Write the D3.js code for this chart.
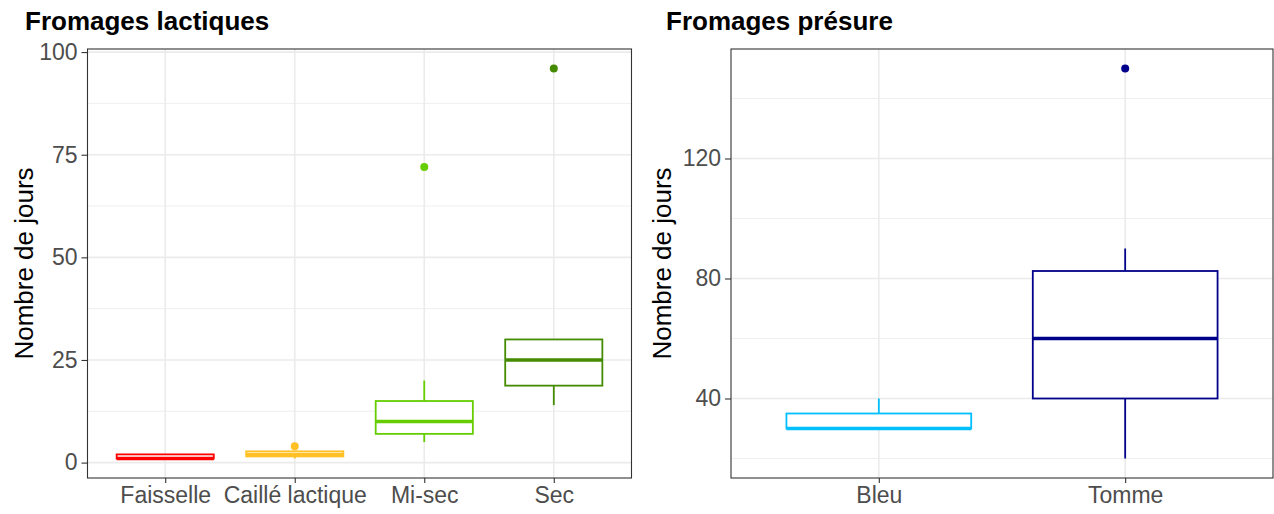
<!DOCTYPE html>
<html lang="fr">
<head>
    <meta charset="UTF-8">
    <title>Fromages</title>
    <script src="https://cdn.jsdelivr.net/npm/d3@7"></script>
    <style>
        body { margin: 0; background: #fff; }
        text { font-family: "Liberation Sans", Arial, sans-serif; }
    </style>
</head>
<body>
</body>
<script>
    // Fromages lactiques
    const lactCats = ["Faisselle", "Caillé lactique", "Mi-sec", "Sec"];
    const lactColors = ["#FF0000", "#FFC125", "#66CD00", "#458B00"];
    const lactLow = [1, 1, 5, 14];
    const lactQ1 = [1, 1.5, 7, 18.75];
    const lactMed = [1, 2, 10, 25];
    const lactQ3 = [2, 2.75, 15, 30];
    const lactHigh = [2, 2.75, 20, 30];
    const lactOut = [[], [4], [72], [96]];
    const lactTicks = [0, 25, 50, 75, 100];
    const lactMinor = [12.5, 37.5, 62.5, 87.5];

    // Fromages présure
    const presCats = ["Bleu", "Tomme"];
    const presColors = ["#00BFFF", "#00008B"];
    const presLow = [30, 20];
    const presQ1 = [30, 40];
    const presMed = [30, 60];
    const presQ3 = [35, 82.5];
    const presHigh = [40, 90];
    const presOut = [[], [150]];
    const presTicks = [40, 80, 120];
    const presMinor = [20, 60, 100, 140];

    const width = 1274;
    const height = 514;

    const svg = d3.select("body")
    .append("svg")
        .attr("width", width)
        .attr("height", height);

    function drawPanel(p) {
        const top = 49, bottom = 478;

        // ggplot-like 5% expansion of data range
        const all = p.low.concat(p.high, p.out.flat());
        const lo = d3.min(all), hi = d3.max(all);
        const pad = (hi - lo) * 0.05;
        const y = d3.scaleLinear().domain([lo - pad, hi + pad]).range([bottom, top]);
        const x = d3.scalePoint().domain(p.cats).range([p.left, p.right]).padding(0.6);
        const bw = x.step() * 0.75;

        const g = svg.append("g");

        // title
        svg.append("text")
            .attr("x", p.titleX)
            .attr("y", 30)
            .style("font-size", "26px")
            .style("font-weight", "bold")
            .attr("fill", "#000")
            .text(p.title);

        // grid
        g.selectAll(".minor")
            .data(p.minor)
            .enter()
            .append("line")
            .attr("x1", p.left).attr("x2", p.right)
            .attr("y1", d => y(d)).attr("y2", d => y(d))
            .attr("stroke", "#EBEBEB")
            .attr("stroke-width", 0.8);

        g.selectAll(".major")
            .data(p.ticks)
            .enter()
            .append("line")
            .attr("x1", p.left).attr("x2", p.right)
            .attr("y1", d => y(d)).attr("y2", d => y(d))
            .attr("stroke", "#EBEBEB")
            .attr("stroke-width", 1.6);

        g.selectAll(".vmajor")
            .data(p.cats)
            .enter()
            .append("line")
            .attr("x1", d => x(d)).attr("x2", d => x(d))
            .attr("y1", top).attr("y2", bottom)
            .attr("stroke", "#EBEBEB")
            .attr("stroke-width", 1.6);

        // boxes
        const boxes = p.cats.map((c, i) => ({
            cat: c, color: p.colors[i], low: p.low[i], q1: p.q1[i],
            med: p.med[i], q3: p.q3[i], high: p.high[i], out: p.out[i]
        }));

        const b = g.selectAll(".box")
            .data(boxes)
            .enter()
            .append("g");

        b.append("line")
            .attr("x1", d => x(d.cat)).attr("x2", d => x(d.cat))
            .attr("y1", d => y(d.q3)).attr("y2", d => y(d.high))
            .attr("stroke", d => d.color)
            .attr("stroke-width", 1.8);

        b.append("line")
            .attr("x1", d => x(d.cat)).attr("x2", d => x(d.cat))
            .attr("y1", d => y(d.q1)).attr("y2", d => y(d.low))
            .attr("stroke", d => d.color)
            .attr("stroke-width", 1.8);

        b.append("rect")
            .attr("x", d => x(d.cat) - bw / 2)
            .attr("width", bw)
            .attr("y", d => y(d.q3))
            .attr("height", d => y(d.q1) - y(d.q3))
            .attr("fill", "#fff")
            .attr("stroke", d => d.color)
            .attr("stroke-width", 1.8);

        b.append("line")
            .attr("x1", d => x(d.cat) - bw / 2).attr("x2", d => x(d.cat) + bw / 2)
            .attr("y1", d => y(d.med)).attr("y2", d => y(d.med))
            .attr("stroke", d => d.color)
            .attr("stroke-width", 3.4);

        b.selectAll("circle")
            .data(d => d.out.map(v => ({ v: v, cat: d.cat, color: d.color })))
            .enter()
            .append("circle")
            .attr("cx", d => x(d.cat))
            .attr("cy", d => y(d.v))
            .attr("r", 4)
            .attr("fill", d => d.color);

        // border
        g.append("rect")
            .attr("x", p.left).attr("y", top)
            .attr("width", p.right - p.left).attr("height", bottom - top)
            .attr("fill", "none")
            .attr("stroke", "#333")
            .attr("stroke-width", 1.1);

        // axes
        const yAxis = g.append("g")
            .attr("transform", `translate(${p.left},0)`)
            .call(d3.axisLeft(y).tickValues(p.ticks).tickSize(6).tickPadding(4));
        const xAxis = g.append("g")
            .attr("transform", `translate(0,${bottom})`)
            .call(d3.axisBottom(x).tickSize(5).tickPadding(4));

        [yAxis, xAxis].forEach(a => {
            a.select(".domain").remove();
            a.selectAll(".tick line").attr("stroke", "#333").attr("stroke-width", 1.1);
            a.selectAll(".tick text")
                .attr("fill", "#4D4D4D")
                .style("font-size", "23px")
                .style("font-family", "'Liberation Sans', Arial, sans-serif");
        });

        // y title
        svg.append("text")
            .attr("transform", `translate(${p.left - p.titleGap},${(top + bottom) / 2}) rotate(-90)`)
            .attr("text-anchor", "middle")
            .style("font-size", "26px")
            .attr("fill", "#000")
            .text("Nombre de jours");
    }

    drawPanel({
        title: "Fromages lactiques", titleX: 25, left: 87.5, right: 631.5, titleGap: 55,
        cats: lactCats, colors: lactColors, low: lactLow, q1: lactQ1, med: lactMed,
        q3: lactQ3, high: lactHigh, out: lactOut, ticks: lactTicks, minor: lactMinor
    });

    drawPanel({
        title: "Fromages présure", titleX: 666, left: 731, right: 1273, titleGap: 60,
        cats: presCats, colors: presColors, low: presLow, q1: presQ1, med: presMed,
        q3: presQ3, high: presHigh, out: presOut, ticks: presTicks, minor: presMinor
    });
</script>
</html>
